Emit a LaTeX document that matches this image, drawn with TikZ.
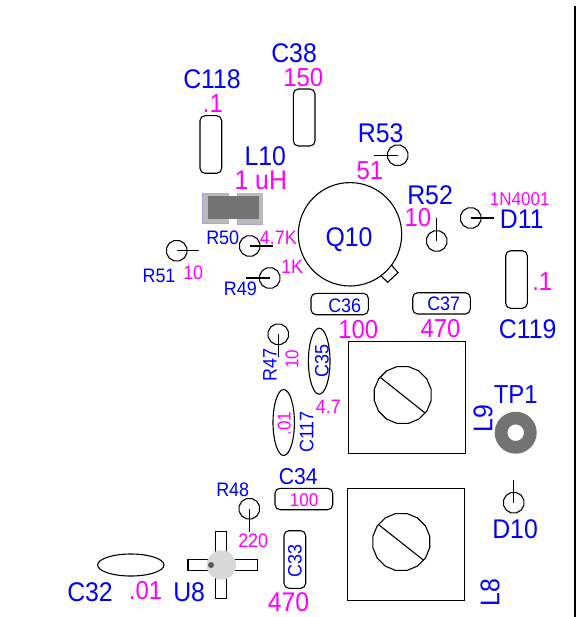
\documentclass[tikz,border=0pt]{standalone}
\usepackage{fontspec}
\setmainfont[FakeStretch=0.92]{Liberation Sans}
\usetikzlibrary{shapes.geometric}
\definecolor{partblue}{RGB}{0,0,255}
\definecolor{valuepink}{RGB}{255,0,255}
\definecolor{padgray}{RGB}{186,186,190}
\definecolor{padedge}{RGB}{165,165,235}
\begin{document}
\begin{tikzpicture}[
        x=1pt,y=-1pt,
        line width=1.1pt,
        partname/.style={text=partblue,anchor=base west,inner sep=0pt,font=\fontsize{#1}{#1}\selectfont},
        partval/.style={text=valuepink,anchor=base west,inner sep=0pt,font=\fontsize{#1}{#1}\selectfont},
        chip/.style={draw,rounded corners=5pt},
        pad/.style={draw,regular polygon,regular polygon sides=12,minimum size=21pt,inner sep=0pt}, % Small solder pads
        dial/.style={draw,regular polygon,regular polygon sides=16,minimum size=58pt,inner sep=0pt}
    ]
    \useasboundingbox (0,0) rectangle (576,617);
    \draw[line width=1.5pt] (575,6) -- (575,617);

    % Capacitor bodies
    \draw[chip] (293.3,89) rectangle (315,146);
    \draw[chip] (200,115.7) rectangle (221.7,173.3);
    \draw[chip] (505.7,250.7) rectangle (527.3,308.3);
    \draw[chip] (311,293.3) rectangle (368.3,314.7);
    \draw[chip] (412.7,292.7) rectangle (470.3,314);
    \draw[chip] (275,488.3) rectangle (332.7,509.7);
    \draw[chip] (284,530.7) rectangle (305.7,588.3);
    \draw (319.2,361.2) ellipse (10.8 and 33);
    \draw (283.7,422.5) ellipse (10.7 and 33);
    \draw (130.8,565) ellipse (33.2 and 11);

    % L10
    \fill[padgray] (202.3,193.3) rectangle (228.7,223.3);
    \fill[padgray] (237.3,193.3) rectangle (262.7,224.3);
    \draw[padedge] (228.7,193.3) -- (202.3,193.3) -- (202.3,223.3) -- (228.7,223.3);
    \draw[padedge] (237.3,193.3) -- (237.3,224.3) (237.3,224.3) -- (262.7,224.3);
    \fill[black!55] (207.7,196.3) rectangle (258.7,219.3);

    % Q10
    \node[draw,circle,minimum size=103.4pt,inner sep=0pt] (Q10) at (350,234.3) {};
    \draw (391.7,265.3) -- (398,272.7) -- (387.7,282.3) -- (381,276);

    % Tuning coils
    \node[draw,minimum width=116.6pt,minimum height=111.6pt,inner sep=0pt] (L9box) at (407,397.5) {};
    \node[dial] (L9dial) at (402.7,395) {};
    \draw (380.7,377.7) -- (424.7,412.7);
    \node[draw,minimum width=116.6pt,minimum height=112pt,inner sep=0pt] (L8box) at (406,544.7) {};
    \node[dial] (L8dial) at (401.3,542) {};
    \draw (379,525) -- (423.3,560);

    % Solder pads with leads
    \node[pad] (R53pad) at (397.7,155.3) {};
    \draw (R53pad.center) -- ++(-23.4,0) coordinate (R53end);
    \node[pad] (R52pad) at (436.7,241) {};
    \draw (R52pad.center) -- ++(0,-23.3) coordinate (R52end);
    \node[pad] (D11pad) at (470.7,218) {};
    \draw (D11pad.center) -- ++(23.6,0) coordinate (D11end);
    \node[pad] (R50pad) at (249.7,246) {};
    \draw (R50pad.center) -- ++(23,0) coordinate (R50end);
    \node[pad] (R51pad) at (176.7,250.7) {};
    \draw (R51pad.center) -- ++(22.6,0) coordinate (R51end);
    \node[pad] (R49pad) at (269.7,278) {};
    \draw (R49pad.center) -- ++(-23.7,0) coordinate (R49end);
    \node[pad] (R47pad) at (278.3,334.3) {};
    \draw (R47pad.center) -- ++(0,22.4) coordinate (R47end);
    \node[pad] (R48pad) at (249.3,508.7) {};
    \draw (R48pad.center) -- ++(0,23) coordinate (R48end);
    \node[pad] (D10pad) at (513.7,502.7) {};
    \draw (D10pad.center) -- ++(0,-22.7) coordinate (D10end);

    % TP1
    \fill[black!55,even odd rule] (515.7,432.7) circle (21) (515.7,432.7) circle (8.3);

    % U8
    \draw (215.7,531.7) rectangle (226.3,598.3);
    \draw (188,559.3) rectangle (257.3,570.3);
    \fill[black!15] (221.3,565) circle (14.7);
    \fill[black!65] (211,565) circle (3);

    % Labels
    \node[partname=27] (C38) at (270.7,62.3) {C38};
    \node[partval=26] (C38v) at (282.7,86.7) {150};
    \node[partname=27] (C118) at (182.7,88.3) {C118};
    \node[partval=26] (C118v) at (202.3,112.3) {.1};
    \node[partname=27] (L10) at (244,166) {L10};
    \node[partval=27] (L10v) at (234,189.3) {1 uH};
    \node[partname=27] (R53) at (357.3,142.7) {R53};
    \node[partval=26] (R53v) at (356,180) {51};
    \node[partname=19.5] (R50) at (205.7,244.3) {R50};
    \node[partval=19.5] (R50v) at (259.3,244) {4.7K};
    \node[partname=19.5] (R51) at (142,282) {R51};
    \node[partval=19.5] (R51v) at (182.7,279.3) {10};
    \node[partval=19.5] (R49v) at (280.7,273.3) {1K};
    \node[partname=19.5] (R49) at (223.3,295.3) {R49};
    \node[partname=27] (Q10t) at (325,246) {Q10};
    \node[partname=27] (R52) at (406.7,204.3) {R52};
    \node[partval=26] (R52v) at (404,226.7) {10};
    \node[partval=18.5] (D11v) at (489.3,206) {1N4001};
    \node[partname=27] (D11) at (499.3,229) {D11};
    \node[partval=26] (C119v) at (531.7,290) {.1};
    \node[partname=27] (C119) at (498.3,338.3) {C119};
    \node[partname=19.5] (C36) at (327.7,312.3) {C36};
    \node[partval=26] (C36v) at (337.7,338.3) {100};
    \node[partname=19.5] (C37) at (426.7,310) {C37};
    \node[partval=26] (C37v) at (420,337.3) {470};
    \node[partname=19.5,rotate=90] (R47) at (276.7,381.7) {R47};
    \node[partval=18.5,rotate=90] (R47v) at (298.3,369.3) {10};
    \node[partname=19.5,rotate=90] (C35) at (328.7,378.3) {C35};
    \node[partval=19.5] (C35v) at (315.3,413.3) {4.7};
    \node[partval=18.5,rotate=90] (C117v) at (290.7,436) {.01};
    \node[partname=19.5,rotate=90] (C117) at (313.3,453.3) {C117};
    \node[partname=27,rotate=90] (L9) at (492.3,432.7) {L9};
    \node[partname=26] (TP1) at (493.3,403.3) {TP1};
    \node[partname=23] (C34) at (278.3,484) {C34};
    \node[partval=18.5] (C34v) at (289.3,506.7) {100};
    \node[partname=27] (D10) at (491.7,538.3) {D10};
    \node[partname=19.5,rotate=90] (C33) at (301.7,578.3) {C33};
    \node[partval=27] (C33v) at (267.3,611.7) {470};
    \node[partname=27,rotate=90] (L8) at (499.3,606.7) {L8};
    \node[partname=19.5] (R48) at (215.7,496.7) {R48};
    \node[partval=19.5] (R48v) at (237.7,547.3) {220};
    \node[partname=27] (C32) at (66.7,601) {C32};
    \node[partval=26] (C32v) at (128.3,599) {.01};
    \node[partname=27] (U8) at (172.7,601) {U8};
\end{tikzpicture}
\end{document}
